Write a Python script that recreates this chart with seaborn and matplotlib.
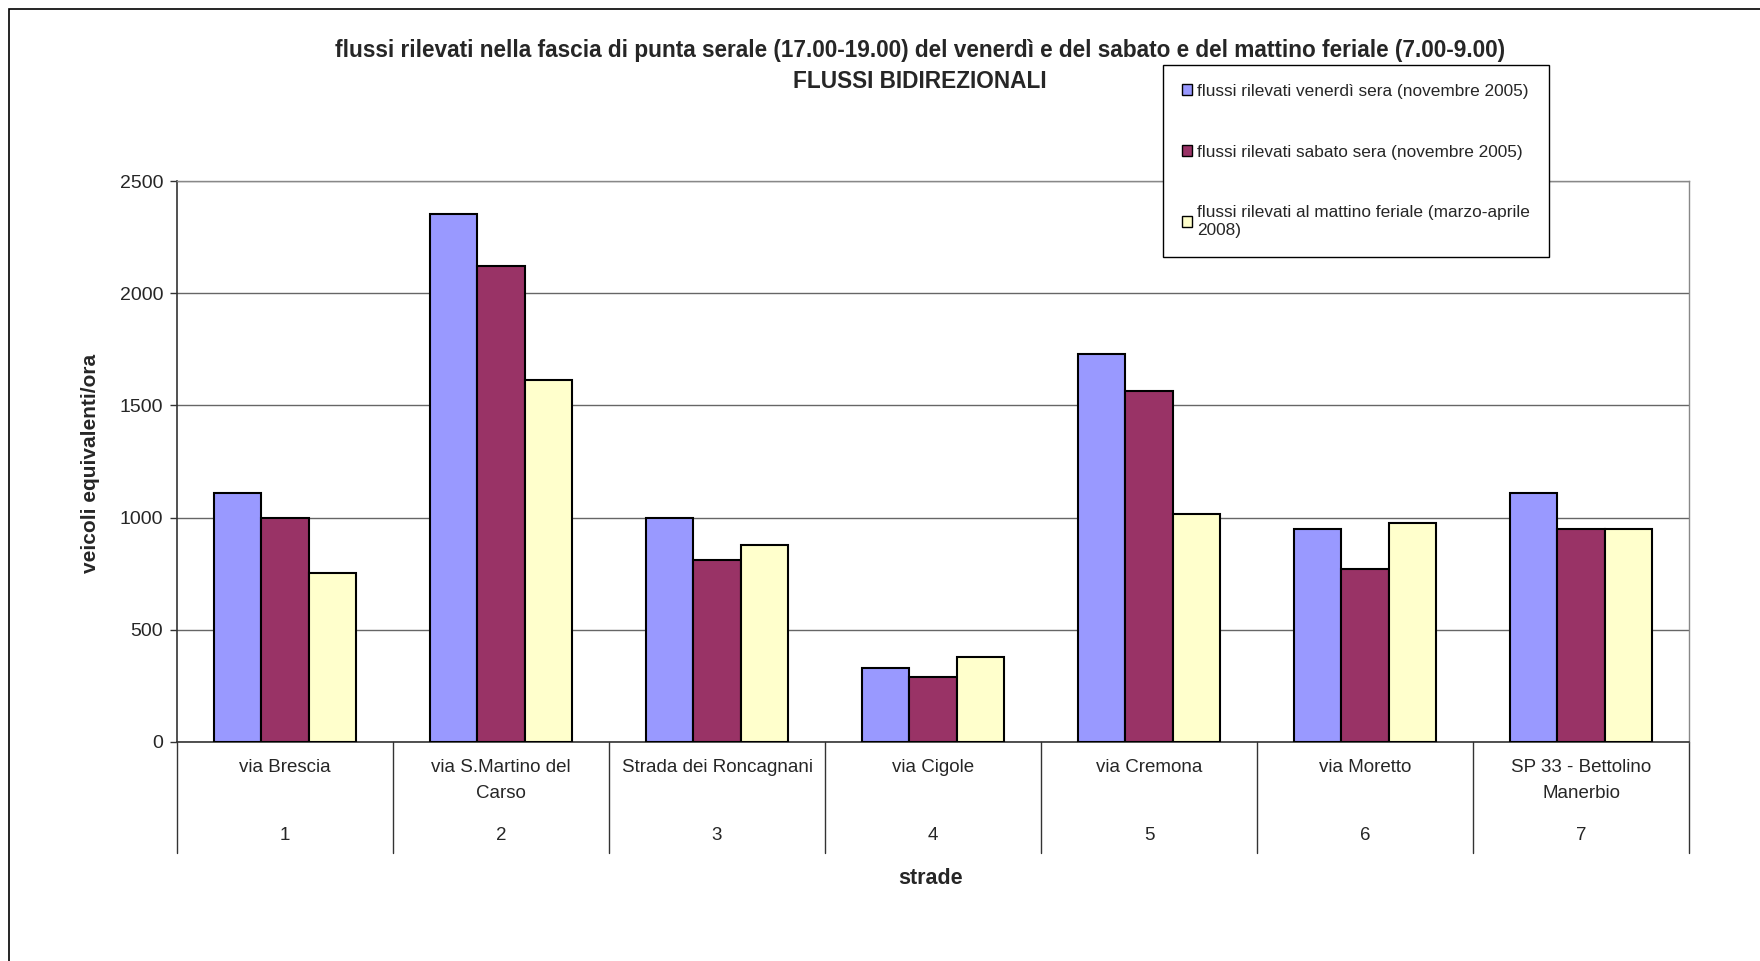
import pandas as pd
import numpy as np
import matplotlib
matplotlib.use('Agg')
import matplotlib.pyplot as plt
import matplotlib.patches as mpatches
import matplotlib.transforms as mtransforms
import seaborn as sns

# data
strade = ["via Brescia", "via S.Martino del\nCarso", "Strada dei Roncagnani", "via Cigole",
          "via Cremona", "via Moretto", "SP 33 - Bettolino\nManerbio"]
numeri = ["1", "2", "3", "4", "5", "6", "7"]
venerdi = [1110, 2352, 1000, 330, 1730, 950, 1110]
sabato = [1000, 2122, 810, 288, 1563, 770, 948]
mattino = [755, 1613, 878, 381, 1015, 975, 948]
serie = ["flussi rilevati venerdì sera (novembre 2005)",
         "flussi rilevati sabato sera (novembre 2005)",
         "flussi rilevati al mattino feriale (marzo-aprile\n2008)"]
colori = ["#9999FF", "#993366", "#FFFFCC"]
yticks = [0, 500, 1000, 1500, 2000, 2500]

sns.set_theme(style="white")
plt.rcParams['font.family'] = ['Liberation Sans', 'DejaVu Sans']

df = pd.DataFrame({
    'strada': strade * 3,
    'valore': venerdi + sabato + mattino,
    'serie': [serie[0]] * 7 + [serie[1]] * 7 + [serie[2]] * 7,
})

fig = plt.figure(figsize=(17.6, 9.61), dpi=100)
ax = fig.add_axes([177/1760, 1-742/961, (1689-177)/1760, 561/961])

sns.barplot(data=df, x='strada', y='valore', hue='serie', palette=colori,
            width=0.66, edgecolor='black', linewidth=1.5, saturation=1,
            errorbar=None, ax=ax, zorder=3)

ax.set_xlim(-0.5, 6.5)
ax.set_ylim(0, 2500)
ax.set_yticks(yticks)
ax.set_yticklabels([str(v) for v in yticks], fontsize=14)
ax.tick_params(axis='y', which='major', left=True, length=5, width=1, color='#333333', pad=5)
ax.set_xticks([])
ax.set_xlabel('')
ax.set_ylabel('')
ax.yaxis.grid(True, color='#666666', linewidth=1, zorder=0)
for side in ['top', 'right']:
    ax.spines[side].set_color('#888888')
    ax.spines[side].set_linewidth(1)
for side in ['left', 'bottom']:
    ax.spines[side].set_color('#333333')
    ax.spines[side].set_linewidth(1.2)

# two-level category axis
trans = mtransforms.blended_transform_factory(ax.transData, ax.transAxes)
for i, (nome, num) in enumerate(zip(strade, numeri)):
    for j, riga in enumerate(nome.split('\n')):
        ax.text(i, -(25 + 27 * j) / 561, riga, transform=trans, ha='center', va='center',
                fontsize=13.5)
    ax.text(i, -94 / 561, num, transform=trans, ha='center', va='center', fontsize=13.5)
for x in np.arange(-0.5, 7.0, 1.0):
    ax.plot([x, x], [0, -0.198], transform=trans, color='#333333', linewidth=1,
            clip_on=False)

fig.text(0.5227, 1-50/961, "flussi rilevati nella fascia di punta serale (17.00-19.00) del venerdì e del sabato e del mattino feriale (7.00-9.00)",
         ha='center', va='center', fontsize=16.3, fontweight='bold')
fig.text(0.5227, 1-81/961, "FLUSSI BIDIREZIONALI", ha='center', va='center',
         fontsize=16.3, fontweight='bold')
fig.text(91/1760, 1-463/961, "veicoli equivalenti/ora", ha='center', va='center',
         rotation=90, fontsize=15, fontweight='bold')
fig.text(931/1760, 1-878/961, "strade", ha='center', va='center', fontsize=15.5,
         fontweight='bold')

handles = [mpatches.Patch(facecolor=c, edgecolor='black', linewidth=1) for c in colori]
ax.get_legend().remove()
leg = fig.legend(handles, serie, loc='upper left', bbox_to_anchor=(1163/1760, 1-65/961),
                 bbox_transform=fig.transFigure, fontsize=12.4, frameon=True, fancybox=False,
                 edgecolor='black', framealpha=1, handlelength=0.6, handleheight=0.6,
                 handletextpad=0.3, labelspacing=2.65, borderpad=1.1, borderaxespad=0)
leg.get_frame().set_linewidth(1)
leg.set_zorder(10)

# outer chart border
fig.patches.append(mpatches.Rectangle((9/1760, -0.1), 1.2, 1-9/961+0.1, transform=fig.transFigure,
                                      fill=False, edgecolor='black', linewidth=1.2))

fig.savefig('out.png', dpi=100)
